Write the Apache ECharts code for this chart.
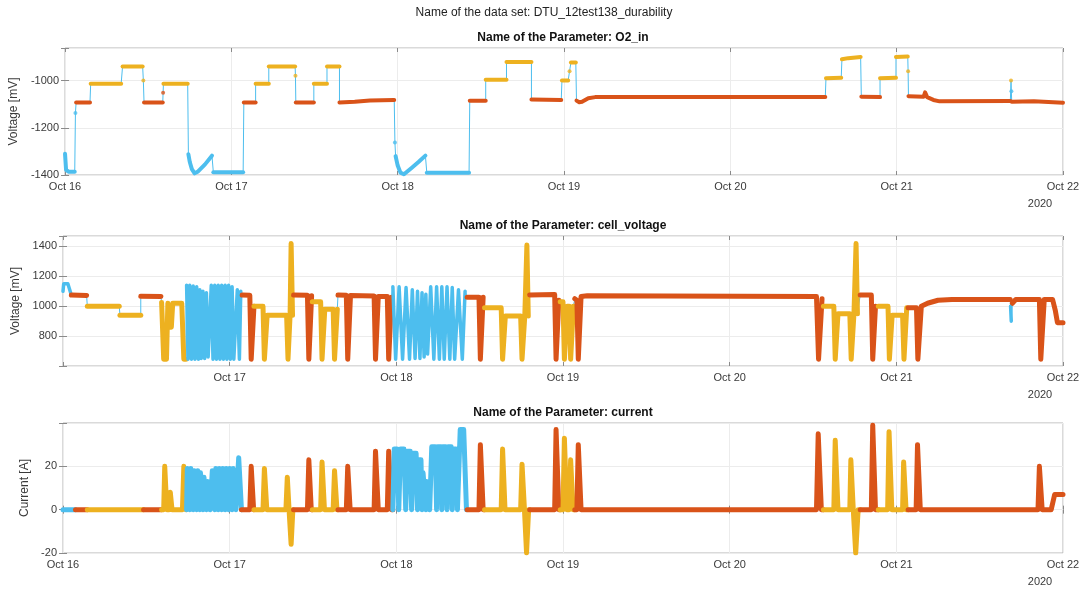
<!DOCTYPE html>
<html><head><meta charset="utf-8">
<script src="https://cdn.jsdelivr.net/npm/echarts@6/dist/echarts.min.js"></script>
<style>html,body{margin:0;padding:0;background:#fff}#c{width:1088px;height:592px}</style>
</head><body><div id="c"></div>
<script>
// ---- tick labels ----
const dayLabels = ['Oct 16','Oct 17','Oct 18','Oct 19','Oct 20','Oct 21','Oct 22'];
const o2TickLabels = [-1400, -1200, -1000];
const cellTickLabels = [800, 1000, 1200, 1400];
const currentTickLabels = [-20, 0, 20];
const phaseColors = { b: '#4DBEEE', r: '#D95319', y: '#EDB120' };

// ---- data: [phase, [[hours since Oct 16 00:00, value], ...]] ----
const o2Segments = [
  ['b', [[0,-1310],[0.15,-1378],[0.5,-1386],[1.4,-1386]]],
  ['b', [[1.5,-1137]]],
  ['r', [[1.6,-1093],[3.6,-1093]]],
  ['y', [[3.7,-1013],[8.1,-1013]]],
  ['y', [[8.3,-940],[11.2,-940]]],
  ['y', [[11.3,-1000]]],
  ['r', [[11.4,-1093],[14.1,-1093]]],
  ['r', [[14.15,-1052]]],
  ['y', [[14.2,-1013],[17.7,-1013]]],
  ['b', [[17.8,-1312],[18.0,-1345],[18.3,-1375],[18.7,-1393],[19.2,-1385],[20.2,-1355],[21.2,-1318]]],
  ['b', [[21.4,-1388],[25.7,-1388]]],
  ['r', [[25.8,-1093],[27.5,-1093]]],
  ['y', [[27.5,-1013],[29.4,-1013]]],
  ['y', [[29.4,-940],[33.2,-940]]],
  ['y', [[33.25,-980]]],
  ['r', [[33.3,-1093],[35.9,-1093]]],
  ['y', [[35.9,-1013],[37.8,-1013]]],
  ['y', [[37.8,-940],[39.6,-940]]],
  ['r', [[39.6,-1093],[41.8,-1090],[44,-1084],[47.5,-1082]]],
  ['b', [[47.6,-1262]]],
  ['b', [[47.7,-1320],[48.0,-1360],[48.4,-1390],[48.9,-1397],[50,-1370],[51,-1345],[52.0,-1318]]],
  ['b', [[52.2,-1390],[58.3,-1390]]],
  ['r', [[58.4,-1085],[60.7,-1085]]],
  ['y', [[60.7,-997],[63.7,-997]]],
  ['y', [[63.7,-921],[67.3,-921]]],
  ['r', [[67.3,-1080],[71.6,-1082]]],
  ['y', [[71.7,-1000],[72.6,-1000]]],
  ['y', [[72.8,-960]]],
  ['y', [[73.0,-923],[73.7,-923]]],
  ['r', [[73.8,-1085],[74.2,-1092],[74.6,-1090],[75.5,-1075],[76.5,-1070],[109.7,-1070]]],
  ['y', [[109.8,-990],[112.0,-988]]],
  ['y', [[112.1,-910],[113,-905],[114.8,-900]]],
  ['r', [[114.9,-1068],[117.6,-1070]]],
  ['y', [[117.6,-990],[119.9,-988]]],
  ['y', [[119.9,-900],[121.6,-898]]],
  ['y', [[121.65,-960]]],
  ['r', [[121.7,-1066],[123.9,-1068],[124.1,-1050],[124.4,-1070],[125.3,-1082],[126.2,-1088],[136.4,-1087]]],
  ['y', [[136.5,-1000]]],
  ['b', [[136.55,-1045]]],
  ['r', [[136.6,-1090],[139.8,-1088],[144,-1094]]]
];

const cellSegments = [
  ['b', [[0,1100],[0.1,1150],[0.7,1150],[0.9,1120],[1.1,1090]]],
  ['r', [[1.2,1075],[3.4,1072]]],
  ['y', [[3.5,1000],[8.1,1000]]],
  ['y', [[8.2,940],[11.2,940]]],
  ['r', [[11.2,1067],[14.1,1065]]],
  ['y', [[14.2,1025],[14.5,645],[14.9,645],[15.1,1020],[15.3,860],[15.6,860],[15.8,1020],[17.1,1020],[17.4,645],[17.7,645]]],
  ['b', [[17.8,1140],[18.0,645],[18.25,1140],[18.5,645],[18.75,1135],[19.0,645],[19.25,1130],[19.5,645],[19.7,1110],[19.9,650],[20.15,1100],[20.4,650],[20.65,1090],[20.9,660],[21.35,1140],[21.6,645],[21.85,1140],[22.1,645],[22.35,1140],[22.6,645],[22.85,1140],[23.1,645],[23.35,1140],[23.6,645],[23.85,1140],[24.1,645],[24.35,1130],[24.6,645],[25.1,1110],[25.4,645],[25.6,1100]]],
  ['r', [[25.8,1075],[26.9,1073],[27.1,645],[27.3,645],[27.5,1000]]],
  ['y', [[27.5,1000],[28.8,1000],[29.0,645],[29.2,645],[29.4,940],[32.2,940],[32.4,645],[32.55,645],[32.7,940],[32.85,1420],[33.05,940]]],
  ['r', [[33.2,1075],[35.2,1073],[35.4,645],[35.6,645],[35.8,1070]]],
  ['y', [[35.9,1030],[37.1,1030],[37.3,645],[37.5,645],[37.7,980],[38.9,980],[39.1,645],[39.3,645],[39.5,980]]],
  ['r', [[39.6,1075],[40.8,1073],[41.0,645],[41.2,645],[41.4,1072],[44.8,1068],[45.0,645],[45.2,645],[45.4,1065],[46.7,1065],[46.9,645],[47.1,645],[47.3,1060]]],
  ['b', [[47.5,1130],[47.9,645],[48.4,1130],[48.9,645],[49.4,1125],[49.9,645],[50.3,1110],[50.7,650],[51.05,1100],[51.4,650],[51.7,1090],[52.0,660],[52.25,1080],[52.5,680],[52.95,1130],[53.4,645],[53.8,1130],[54.2,645],[54.55,1130],[54.9,645],[55.3,1130],[55.7,645],[56.05,1125],[56.4,645],[56.95,1110],[57.5,645],[57.9,1100]]],
  ['r', [[58.2,1060],[59.9,1060],[60.1,645],[60.3,645],[60.5,1060]]],
  ['y', [[60.7,990],[63.1,990],[63.3,645],[63.5,645],[63.7,935],[65.9,935],[66.1,645],[66.3,645],[66.5,935],[66.8,1410],[67.0,935]]],
  ['r', [[67.2,1075],[70.8,1078],[71.0,645],[71.2,645],[71.4,1040]]],
  ['y', [[71.6,1030],[72.0,1030],[72.2,645],[72.4,645],[72.6,1000],[72.9,1000],[73.1,645],[73.3,645],[73.5,1000]]],
  ['r', [[73.7,1050],[74.0,1040],[74.2,645],[74.4,645],[74.6,1065],[75.5,1070],[108.5,1065],[108.8,645],[109.0,645],[109.3,1050]]],
  ['y', [[109.5,1000],[111.0,1000],[111.2,645],[111.4,645],[111.6,950],[113.3,950],[113.5,645],[113.7,645],[113.9,950],[114.2,1420],[114.4,950]]],
  ['r', [[114.8,1075],[116.4,1075],[116.6,645],[116.8,645],[117.0,1000]]],
  ['y', [[117.4,1000],[118.8,1000],[119.0,645],[119.2,645],[119.4,940],[120.9,940],[121.1,645],[121.3,645],[121.5,990]]],
  ['r', [[121.7,990],[122.9,990],[123.1,645],[123.3,645],[123.6,1000],[124.5,1020],[126,1040],[128,1045],[136.4,1045]]],
  ['b', [[136.45,1000],[136.55,900]]],
  ['r', [[136.7,1020],[137.2,1045],[140.6,1045],[140.8,645],[141.0,645],[141.3,1045],[142.5,1045],[142.9,970],[143.2,890],[144,890]]]
];

const currentSegments = [
  ['b', [[0,0],[1.8,0]]],
  ['r', [[1.8,0],[3.5,0]]],
  ['y', [[3.5,0],[11.6,0]]],
  ['r', [[11.6,0],[14.2,0]]],
  ['y', [[14.2,0],[14.5,0],[14.65,20],[14.75,20],[14.95,0],[15.3,0],[15.45,8],[15.55,8],[15.7,0],[17.2,0],[17.4,20],[17.5,20],[17.7,0]]],
  ['b', [[17.8,0],[17.9,19],[18.1,19],[18.25,0],[18.4,19],[18.6,19],[18.75,0],[18.9,18],[19.1,18],[19.25,0],[19.4,18],[19.6,18],[19.7,0],[19.8,17],[20.0,17],[20.15,0],[20.3,15],[20.5,15],[20.65,0],[20.8,13],[21.0,13],[21.2,0],[21.5,18],[21.7,18],[21.85,0],[22.0,19],[22.2,19],[22.35,0],[22.5,19],[22.7,19],[22.85,0],[23.0,19],[23.2,19],[23.35,0],[23.5,19],[23.7,19],[23.85,0],[24.0,19],[24.2,19],[24.35,0],[24.5,19],[24.7,19],[24.9,0],[25.3,24],[25.45,24],[25.7,0]]],
  ['r', [[25.7,0],[26.9,0],[27.1,20],[27.25,20],[27.45,0],[27.5,0]]],
  ['y', [[27.5,0],[28.8,0],[29.0,19],[29.15,19],[29.35,0],[32.1,0],[32.3,15],[32.4,15],[32.55,0],[32.7,0],[32.85,-16],[32.95,-16],[33.1,0],[33.2,0]]],
  ['r', [[33.2,0],[35.2,0],[35.4,23],[35.55,23],[35.75,0],[35.9,0]]],
  ['y', [[35.9,0],[37.1,0],[37.3,22],[37.45,22],[37.65,0],[38.9,0],[39.1,18],[39.25,18],[39.45,0],[39.6,0]]],
  ['r', [[39.6,0],[40.8,0],[41.0,20],[41.15,20],[41.35,0],[44.8,0],[45.0,27],[45.15,27],[45.4,0],[46.7,0],[46.9,27],[47.05,27],[47.3,0],[47.5,0]]],
  ['b', [[47.5,0],[47.7,28],[48.1,28],[48.35,0],[48.6,28],[49.1,28],[49.35,0],[49.6,27],[50.0,27],[50.2,0],[50.45,26],[50.85,26],[51.05,0],[51.2,23],[51.55,23],[51.7,0],[51.85,17],[52.1,17],[52.25,0],[52.35,13],[52.6,13],[52.8,0],[53.1,29],[53.6,29],[53.8,0],[53.95,29],[54.4,29],[54.55,0],[54.7,29],[55.1,29],[55.3,0],[55.45,29],[55.9,29],[56.05,0],[56.2,28],[56.6,28],[56.8,0],[57.2,37],[57.7,37],[58.1,0],[58.2,0]]],
  ['r', [[58.2,0],[59.9,0],[60.1,30],[60.3,30],[60.5,0],[60.7,0]]],
  ['y', [[60.7,0],[63.1,0],[63.3,28],[63.45,28],[63.65,0],[65.9,0],[66.1,21],[66.25,21],[66.45,0],[66.6,0],[66.75,-20],[66.9,-20],[67.05,0],[67.2,0]]],
  ['r', [[67.2,0],[70.8,0],[71.0,37],[71.15,37],[71.4,0],[71.6,0]]],
  ['y', [[71.6,0],[72.0,0],[72.2,33],[72.35,33],[72.55,0],[72.9,0],[73.1,23],[73.25,23],[73.45,0],[73.7,0]]],
  ['r', [[73.7,0],[74.0,0],[74.2,30],[74.35,30],[74.6,0],[108.5,0],[108.75,35],[108.9,35],[109.2,0],[109.5,0]]],
  ['y', [[109.5,0],[111.0,0],[111.2,32],[111.35,32],[111.6,0],[113.3,0],[113.45,23],[113.6,23],[113.8,0],[114.0,0],[114.15,-20],[114.35,-20],[114.5,0],[114.8,0]]],
  ['r', [[114.8,0],[116.4,0],[116.6,39],[116.75,39],[117.0,0],[117.4,0]]],
  ['y', [[117.4,0],[118.75,0],[118.95,36],[119.1,36],[119.35,0],[120.9,0],[121.05,22],[121.2,22],[121.4,0],[121.7,0]]],
  ['r', [[121.7,0],[122.85,0],[123.05,30],[123.2,30],[123.45,0],[140.4,0],[140.6,20],[140.75,20],[141.0,0],[142.3,0],[142.8,7],[144,7]]]
];

// ---- layout ----
const L = 63, R = 25;
const grids = [
  { top: 48, height: 127 },
  { top: 236, height: 130 },
  { top: 423, height: 130 }
];
const yRanges = [
  { min: -1400, max: -862, interval: 200, ticks: o2TickLabels, name: 'Voltage [mV]', gap: 37 },
  { min: 600, max: 1470, interval: 200, ticks: cellTickLabels, name: 'Voltage [mV]', gap: 37 },
  { min: -20, max: 40, interval: 20, ticks: currentTickLabels, name: 'Current [A]', gap: 23 }
];
const titles = ['Name of the Parameter: O2_in', 'Name of the Parameter: cell_voltage', 'Name of the Parameter: current'];
const lineWidths = [4, 5, 5];
const blueWidths = [4, 3.5, 5];

const tickColor = '#8a8a8a';
const labelColor = '#3a3a3a';
const FONT = 'Liberation Sans, Arial, sans-serif';

const option = {
  animation: false,
  backgroundColor: '#ffffff',
  grid: grids.map(g => ({ left: L, right: R, top: g.top, height: g.height, show: true, borderColor: '#b4b4b4', borderWidth: 1, backgroundColor: 'transparent' })),
  xAxis: [], yAxis: [], series: [], graphic: []
};

grids.forEach((g, i) => {
  option.xAxis.push({
    gridIndex: i, type: 'value', min: 0, max: 144, interval: 24,
    axisLine: { show: false },
    axisTick: { show: true, inside: true, length: 4, lineStyle: { color: tickColor } },
    splitLine: { show: true, lineStyle: { color: '#ececec', width: 1 } },
    axisLabel: {
      color: labelColor, fontSize: 11, fontFamily: FONT, margin: 6,
      formatter: v => (i === 1 && v === 0) ? '' : (dayLabels[Math.round(v / 24)] || '')
    }
  });
  option.xAxis.push({
    gridIndex: i, type: 'value', position: 'top', min: 0, max: 144, interval: 24,
    axisLine: { show: false }, axisLabel: { show: false }, splitLine: { show: false },
    axisTick: { show: true, inside: true, length: 4, lineStyle: { color: tickColor } }
  });
  const yr = yRanges[i];
  option.yAxis.push({
    gridIndex: i, type: 'value', min: yr.min, max: yr.max, interval: yr.interval,
    axisLine: { show: false },
    axisTick: { show: true, inside: true, length: 4, lineStyle: { color: tickColor } },
    splitLine: { show: true, lineStyle: { color: '#ececec', width: 1 } },
    axisLabel: {
      color: labelColor, fontSize: 11, fontFamily: FONT, margin: 6,
      formatter: v => yr.ticks.indexOf(v) >= 0 ? String(v) : ''
    },
    name: yr.name, nameLocation: 'middle', nameGap: yr.gap,
    nameTextStyle: { color: labelColor, fontSize: 12, fontFamily: FONT }
  });
  option.yAxis.push({
    gridIndex: i, type: 'value', position: 'right', min: yr.min, max: yr.max, interval: yr.interval,
    axisLine: { show: false }, axisLabel: { show: false }, splitLine: { show: false },
    axisTick: { show: true, inside: true, length: 4, lineStyle: { color: tickColor } }
  });
  option.graphic.push({
    type: 'text', x: L + (1088 - L - R) / 2, y: g.top - 10, z: 10,
    style: { text: titles[i], textAlign: 'center', textVerticalAlign: 'middle', font: 'bold 12px ' + FONT, fill: '#111' }
  });
  option.graphic.push({
    type: 'text', x: 1040, y: g.top + g.height + 29, z: 10,
    style: { text: '2020', textAlign: 'center', textVerticalAlign: 'middle', font: '11px ' + FONT, fill: labelColor }
  });
});

option.graphic.push({
  type: 'text', x: 544, y: 13, z: 10,
  style: { text: 'Name of the data set: DTU_12test138_durability', textAlign: 'center', textVerticalAlign: 'middle', font: '12px ' + FONT, fill: '#222' }
});

function addPlot(segments, gi) {
  const all = [];
  segments.forEach(s => s[1].forEach(p => all.push(p)));
  option.series.push({
    type: 'line', xAxisIndex: gi * 2, yAxisIndex: gi * 2, data: all, showSymbol: false,
    lineStyle: { color: '#4DBEEE', width: 1 }, z: 1, silent: true
  });
  segments.forEach(s => {
    const col = phaseColors[s[0]];
    const w = s[0] === 'b' ? blueWidths[gi] : lineWidths[gi];
    if (s[1].length > 1) {
      option.series.push({
        type: 'line', xAxisIndex: gi * 2, yAxisIndex: gi * 2, data: s[1], showSymbol: false,
        lineStyle: { color: col, width: w, cap: 'round', join: 'round' }, z: 2, silent: true
      });
    } else {
      option.series.push({
        type: 'scatter', xAxisIndex: gi * 2, yAxisIndex: gi * 2, data: s[1], symbolSize: 4,
        itemStyle: { color: col }, z: 3, silent: true
      });
    }
  });
}
addPlot(o2Segments, 0);
addPlot(cellSegments, 1);
addPlot(currentSegments, 2);

const chart = echarts.init(document.getElementById('c'), null, { renderer: 'canvas' });
chart.setOption(option);
</script>
</body></html>
